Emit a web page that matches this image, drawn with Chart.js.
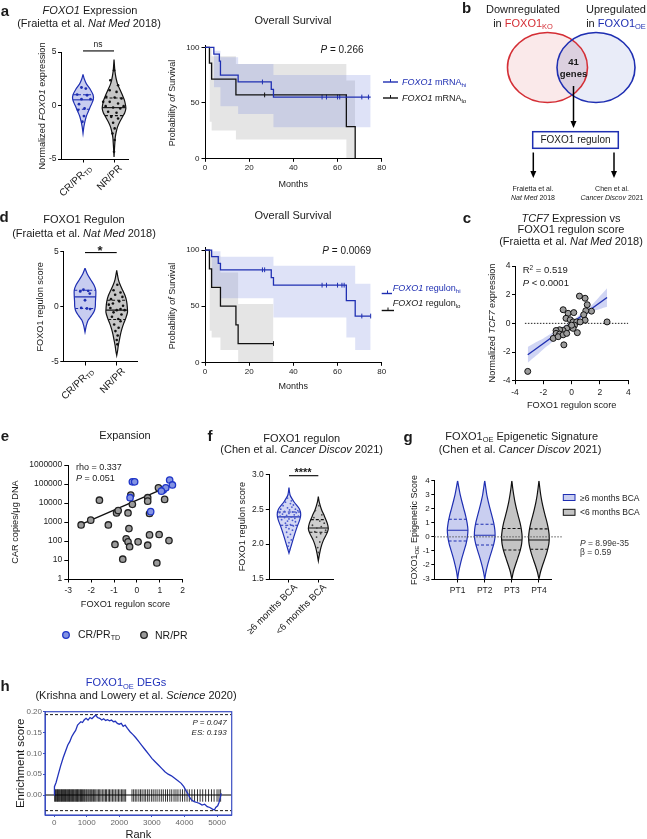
<!DOCTYPE html>
<html><head><meta charset="utf-8"><title>FOXO1 figure</title>
<script src="https://cdn.jsdelivr.net/npm/chart.js@4.4.1/dist/chart.umd.min.js"></script>
<style>
html,body{margin:0;padding:0;background:#fff}
body{position:relative;width:647px;height:839px;overflow:hidden;font-family:"Liberation Sans",Arial,Helvetica,sans-serif;color:#1a1a1a}
#charts canvas{position:absolute;left:0;top:0}
svg{position:absolute;left:0;top:0}
.t{position:absolute;white-space:nowrap;line-height:1}
.sb{font-size:0.68em;position:relative;top:0.32em}
.sp{font-size:0.68em;position:relative;top:-0.45em}
</style></head><body>
<div id="charts"></div>
<svg id="ov" width="647" height="839">
  <defs><clipPath id="cr"><ellipse cx="547.5" cy="67.5" rx="40" ry="35"/></clipPath></defs>
  <ellipse cx="547.5" cy="67.5" rx="40" ry="35" fill="#fae9ea"/>
  <ellipse cx="596" cy="67.5" rx="39" ry="35" fill="#e9ecf8"/>
  <ellipse cx="596" cy="67.5" rx="39" ry="35" fill="#dcd0df" clip-path="url(#cr)"/>
  <ellipse cx="547.5" cy="67.5" rx="40" ry="35" fill="none" stroke="#d42e35" stroke-width="1.6"/>
  <ellipse cx="596" cy="67.5" rx="39" ry="35" fill="none" stroke="#1f2fb2" stroke-width="1.6"/>
  <line x1="573.5" y1="86" x2="573.5" y2="122" stroke="#000" stroke-width="1.5"/>
  <polygon points="570.5,121 576.5,121 573.5,128" fill="#000"/>
  <rect x="532.7" y="131.7" width="85.6" height="16.6" fill="#fff" stroke="#1f2fb2" stroke-width="1.5"/>
  <line x1="533.3" y1="152.5" x2="533.3" y2="172" stroke="#000" stroke-width="1.5"/>
  <polygon points="530.3,171 536.3,171 533.3,178" fill="#000"/>
  <line x1="614" y1="152.5" x2="614" y2="172" stroke="#000" stroke-width="1.5"/>
  <polygon points="611,171 617,171 614,178" fill="#000"/>
  <!-- KM legends -->
  <line x1="383" y1="82" x2="398" y2="82" stroke="#1f2fb2" stroke-width="1.4"/>
  <line x1="390.5" y1="79" x2="390.5" y2="82" stroke="#1f2fb2" stroke-width="1"/>
  <line x1="383" y1="98" x2="398" y2="98" stroke="#111" stroke-width="1.4"/>
  <line x1="390.5" y1="95" x2="390.5" y2="98" stroke="#111" stroke-width="1"/>
  <line x1="381.7" y1="293.5" x2="392" y2="293.5" stroke="#1f2fb2" stroke-width="1.4"/>
  <line x1="387.5" y1="290.5" x2="387.5" y2="293.5" stroke="#1f2fb2" stroke-width="1"/>
  <line x1="381.7" y1="310.5" x2="394" y2="310.5" stroke="#111" stroke-width="1.4"/>
  <line x1="388" y1="307.5" x2="388" y2="310.5" stroke="#111" stroke-width="1"/>
  <!-- e legend -->
  <circle cx="66" cy="635" r="3.3" fill="#8393e2" stroke="#1f35c8" stroke-width="1.3"/>
  <circle cx="144" cy="635" r="3.3" fill="#9a9a9a" stroke="#222" stroke-width="1.3"/>
  <!-- g legend -->
  <rect x="563.3" y="494.5" width="11.7" height="6" fill="#c9cef0" stroke="#1f2fb2" stroke-width="1"/>
  <rect x="563.3" y="509.3" width="11.7" height="6" fill="#c4c4c4" stroke="#111" stroke-width="1"/>
</svg>
<div id="txt"></div>
<script>
// ================= DATA =================
// Panel a – FOXO1 expression violins (value levels / relative density)
const aCats = ['CR/PR_TD', 'NR/PR'];
const aYTicks = [-5, 0, 5];
const aCR_y = [2.9, 2.5, 2.0, 1.5, 1.0, 0.6, 0.2, -0.2, -0.6, -1.0, -1.5, -2.0, -2.6];
const aCR_d = [0, 0.1, 0.3, 0.62, 0.85, 0.88, 0.75, 0.58, 0.43, 0.28, 0.16, 0.07, 0];
const aNR_y = [4.3, 3.5, 3.0, 2.5, 2.0, 1.5, 1.0, 0.5, 0, -0.3, -0.7, -1.0, -1.5, -2.0, -2.5, -3.0, -4.0, -4.8];
const aNR_d = [0, 0.05, 0.1, 0.18, 0.3, 0.5, 0.7, 0.88, 0.98, 1.0, 0.9, 0.75, 0.5, 0.3, 0.18, 0.1, 0.04, 0];
const aCR_q = [1.0, 0.53, -0.35];
const aNR_q = [0.7, -0.2, -0.95];
const aCR_py = [1.68, 1.58, 1.02, 0.96, 0.59, 0.59, 0.12, -0.28, -0.43, -0.99, -1.52];
const aCR_px = [-0.05, 0.09, -0.19, 0.13, -0.05, 0.24, -0.13, 0.05, -0.16, 0.03, -0.02];
const aNR_py = [3.29, 2.36, 1.89, 1.43, 1.27, 0.81, 0.75, 0.65, 0.34, 0.19, -0.06, -0.19, -0.28, -0.59, -0.68, -1.06, -1.21, -1.61, -2.14, -2.61, -3.23, -4.32, -0.06, 0.34];
const aNR_px = [0, -0.12, 0.13, -0.14, 0.08, -0.25, 0.02, 0.24, -0.14, 0.13, -0.27, -0.03, 0.2, -0.19, 0.08, -0.09, 0.13, -0.03, 0.02, -0.05, 0.02, 0, 0.31, -0.35];
const aSigY = 5.1;

// Panel a – Kaplan–Meier (FOXO1 mRNA hi / lo)
const kmTicksX = [0, 20, 40, 60, 80];
const kmTicksY = [0, 50, 100];
const kmA_hi_t = [0, 4, 6.5, 7, 15, 30, 31, 75];
const kmA_hi_s = [100, 93.8, 87.5, 75, 68.8, 62.1, 55.2, 55.2];
const kmA_hi_ct = [26, 53, 55, 60, 61, 64, 71, 74];
const kmA_hi_cs = [68.8, 55.2, 55.2, 55.2, 55.2, 55.2, 55.2, 55.2];
const kmA_lo_t = [0, 2, 3, 14, 64, 68];
const kmA_lo_s = [100, 85.7, 71.4, 57.1, 28.6, 0];
const kmA_lo_ct = [27];
const kmA_lo_cs = [57.1];
const kmA_hi_bt = [4, 7, 15, 31, 75];
const kmA_hi_bu = [97, 91, 85, 75, 75];
const kmA_hi_bl = [64, 47, 40, 28, 28];
const kmA_lo_bt = [2, 3, 14, 64, 68];
const kmA_lo_bu = [100, 92, 85, 70, 70];
const kmA_lo_bl = [33, 25, 17, 0, 0];

// Panel d – FOXO1 regulon violins
const dCR_y = [3.5, 3.0, 2.5, 2.0, 1.5, 1.0, 0.5, 0, -0.4, -0.8, -1.2, -1.7, -2.3];
const dCR_d = [0, 0.2, 0.5, 0.82, 1.0, 1.0, 0.97, 0.95, 0.85, 0.6, 0.3, 0.12, 0];
const dNR_y = [3.3, 2.5, 2.0, 1.5, 1.0, 0.5, 0, -0.5, -1.0, -1.5, -2.0, -2.5, -3.0, -3.5, -4.0, -4.4];
const dNR_d = [0, 0.15, 0.32, 0.55, 0.78, 0.92, 0.98, 1.0, 0.85, 0.65, 0.48, 0.35, 0.25, 0.15, 0.08, 0];
const dCR_q = [1.5, 0.9, -0.15];
const dNR_q = [0.6, -0.3, -1.15];
const dCR_py = [1.55, 1.45, 1.4, 1.2, 0.6, -0.1, -0.15, -0.2];
const dCR_px = [-0.05, 0.1, -0.15, 0.15, 0.0, -0.12, 0.06, 0.16];
const dNR_py = [2.0, 1.5, 1.3, 1.1, 0.9, 0.7, 0.5, 0.3, 0.1, -0.1, -0.3, -0.3, -0.5, -0.7, -0.9, -1.1, -1.3, -1.6, -1.9, -2.2, -2.6, -3.0, -3.4, 0.2, -0.2];
const dNR_px = [0.02, -0.1, 0.12, -0.05, 0.18, -0.18, 0.08, -0.12, 0.2, -0.2, 0.0, 0.25, -0.1, 0.15, -0.15, 0.05, 0.12, -0.08, 0.06, -0.04, 0.03, 0.0, 0.02, -0.25, 0.12];
const dSigY = 4.92;

// Panel d – Kaplan–Meier (FOXO1 regulon hi / lo)
const kmD_hi_t = [0, 3, 6, 7, 30, 31, 64, 68, 75];
const kmD_hi_s = [100, 94.1, 88.2, 82.4, 75.5, 68.7, 55.0, 41.2, 41.2];
const kmD_hi_ct = [26, 27, 53, 55, 60, 62, 63, 71, 75];
const kmD_hi_cs = [82.4, 82.4, 68.7, 68.7, 68.7, 68.7, 68.7, 41.2, 41.2];
const kmD_lo_t = [0, 2, 3, 7, 14, 15, 31];
const kmD_lo_s = [100, 83.3, 66.7, 50, 33.3, 16.7, 16.7];
const kmD_lo_ct = [31];
const kmD_lo_cs = [16.7];
const kmD_hi_bt = [3, 7, 31, 64, 68, 75];
const kmD_hi_bu = [99, 94, 86, 86, 70, 70];
const kmD_hi_bl = [68, 57, 40, 22, 11, 11];
const kmD_lo_bt = [2, 3, 7, 15, 31];
const kmD_lo_bu = [100, 95, 80, 52, 52];
const kmD_lo_bl = [28, 22, 11, 0, 0];

// Panel c – TCF7 vs FOXO1 regulon score
const cTicks = [-4, -2, 0, 2, 4];
const cX = [-3.1, 2.5, 0.55, 0.95, 1.1, 1.4, 1.0, 0.85, 0.95, -0.6, -0.25, 0.15, -0.4, -0.1, 0.1, 0.35, 0.6, 0.2, -0.1, -0.35, -0.6, -0.85, -1.1, -1.1, -0.85, -1.3, -0.95, -0.6, -0.35, 0.4, -0.55, 0.1, 0.0];
const cY = [-3.35, 0.1, 1.9, 1.75, 1.3, 0.85, 0.88, 0.6, 0.22, 0.95, 0.7, 0.75, 0.35, 0.25, 0.1, 0.1, 0.1, -0.13, -0.25, -0.35, -0.5, -0.45, -0.5, -0.7, -0.75, -1.05, -0.93, -0.8, -0.7, -0.65, -1.5, -0.35, -0.13];
const cFitX = [-3.1, 2.5];
const cFitY = [-2.19, 1.8];
const cBandX = [-3.1, -2.5, -2, -1.5, -1, -0.5, 0, 0.5, 1, 1.5, 2, 2.5];
const cBandU = [-1.65, -1.3, -1.05, -0.75, -0.45, -0.15, 0.15, 0.55, 0.95, 1.35, 1.9, 2.45];
const cBandL = [-2.75, -2.25, -1.8, -1.4, -0.95, -0.55, -0.2, 0.2, 0.55, 0.85, 1.0, 1.15];

// Panel e – Expansion (log CAR copies)
const eXTicks = [-3, -2, -1, 0, 1, 2];
const eYTicks = [1, 10, 100, 1000, 10000, 100000, 1000000];
const eNR_x = [-2.44, -2.02, -1.64, -1.25, -0.96, -0.89, -0.82, -0.62, -0.47, -0.39, -0.39, -0.35, -0.32, -0.27, -0.2, 0.05, 0.47, 0.47, 0.47, 0.55, 0.55, 0.87, 0.94, 0.97, 1.21, 1.4];
const eNR_y = [700, 1250, 14000, 700, 66, 3000, 4000, 11, 130, 3000, 90, 450, 50, 26000, 8500, 90, 60, 19000, 12500, 2800, 210, 7, 63000, 220, 15500, 105];
const eCR_x = [-0.2, -0.1, -0.3, 0.6, 1.15, 1.26, 1.43, 1.55, 1.07];
const eCR_y = [130000, 130000, 19000, 3500, 48000, 63000, 162000, 89000, 42000];
const eFitX = [-2.44, 1.01];
const eFitY = [758, 48000];

// Panel f – FOXO1 regulon (Chen et al.)
const fCats = ['≥6 months BCA', '<6 months BCA'];
const fYTicks = [1.5, 2.0, 2.5, 3.0];
const fHi_y = [2.81, 2.7, 2.6, 2.5, 2.42, 2.35, 2.25, 2.15, 2.05, 1.97, 1.87];
const fHi_d = [0, 0.1, 0.45, 0.9, 1.0, 0.92, 0.7, 0.5, 0.32, 0.18, 0];
const fLo_y = [2.68, 2.6, 2.5, 2.4, 2.3, 2.22, 2.15, 2.05, 1.95, 1.85, 1.76];
const fLo_d = [0, 0.08, 0.26, 0.52, 0.76, 0.85, 0.72, 0.42, 0.22, 0.09, 0];
const fHi_q = [2.46, 2.39, 2.27];
const fLo_q = [2.35, 2.23, 2.17];
const fHi_py = [2.72, 2.66, 2.62, 2.6, 2.58, 2.56, 2.55, 2.53, 2.52, 2.5, 2.5, 2.49, 2.48, 2.47, 2.46, 2.45, 2.45, 2.44, 2.43, 2.42, 2.41, 2.4, 2.4, 2.39, 2.38, 2.37, 2.36, 2.35, 2.34, 2.33, 2.32, 2.3, 2.28, 2.26, 2.24, 2.22, 2.2, 2.17, 2.14, 2.1, 2.06, 2.02, 1.97, 1.92];
const fHi_px = [0.0, -0.05, 0.08, -0.12, 0.05, 0.15, -0.2, 0.1, -0.05, 0.22, -0.28, 0.02, 0.3, -0.15, 0.12, -0.32, 0.25, 0.0, -0.22, 0.18, -0.08, 0.32, -0.3, 0.08, -0.15, 0.2, 0.0, -0.25, 0.12, -0.05, 0.22, -0.12, 0.05, 0.15, -0.1, 0.0, 0.12, -0.08, 0.05, -0.04, 0.08, 0.0, -0.03, 0.02];
const fLo_py = [2.55, 2.48, 2.42, 2.38, 2.33, 2.3, 2.27, 2.25, 2.23, 2.2, 2.18, 2.15, 2.1, 2.03, 1.95, 1.88];
const fLo_px = [0.02, -0.1, 0.12, -0.15, 0.05, 0.2, -0.2, 0.1, -0.05, 0.25, -0.12, 0.08, -0.06, 0.05, -0.02, 0.0];
const fSigY = 2.98;

// Panel g – FOXO1_OE epigenetic signature
const gCats = ['PT1', 'PT2', 'PT3', 'PT4'];
const gYTicks = [-3, -2, -1, 0, 1, 2, 3, 4];
const gV_y = [4, 3.5, 3, 2.5, 2, 1.5, 1, 0.5, 0, -0.5, -1, -1.5, -2, -2.5, -3];
const gPT1_d = [0, 0.12, 0.25, 0.42, 0.6, 0.78, 0.92, 1.0, 0.95, 0.82, 0.62, 0.42, 0.25, 0.1, 0];
const gPT2_d = [0, 0.1, 0.2, 0.35, 0.52, 0.7, 0.87, 0.98, 1.0, 0.88, 0.68, 0.47, 0.28, 0.12, 0];
const gPT3_d = [0, 0.08, 0.18, 0.3, 0.45, 0.62, 0.8, 0.93, 1.0, 0.95, 0.8, 0.58, 0.35, 0.14, 0];
const gPT4_d = [0, 0.08, 0.17, 0.29, 0.44, 0.61, 0.79, 0.93, 1.0, 0.96, 0.81, 0.6, 0.36, 0.15, 0];
const gPT1_q = [1.25, 0.47, -0.29];
const gPT2_q = [0.9, 0.12, -0.58];
const gPT3_q = [0.6, -0.22, -0.93];
const gPT4_q = [0.57, -0.22, -0.88];

// Panel h – GSEA running enrichment score
const hXTicks = [0, 1000, 2000, 3000, 4000, 5000];
const hYTicks = [0, 0.05, 0.1, 0.15, 0.2];
const hRank = [0, 10, 60, 130, 200, 280, 350, 420, 480, 540, 600, 660, 720, 770, 820, 870, 920, 980, 1040, 1100, 1160, 1220, 1280, 1330, 1400, 1460, 1520, 1580, 1640, 1700, 1760, 1820, 1880, 1940, 2000, 2060, 2120, 2180, 2250, 2330, 2420, 2500, 2600, 2700, 2800, 2900, 3000, 3100, 3200, 3300, 3400, 3500, 3600, 3700, 3800, 3900, 3980, 4050, 4100, 4160, 4220, 4300, 4380, 4460, 4540, 4620, 4700, 4780, 4860, 4920, 4960, 5020, 5060, 5100, 5130];
const hES = [0.0, 0.02, 0.03, 0.05, 0.07, 0.09, 0.105, 0.12, 0.128, 0.14, 0.148, 0.155, 0.168, 0.172, 0.176, 0.174, 0.18, 0.184, 0.18, 0.186, 0.183, 0.188, 0.192, 0.186, 0.184, 0.18, 0.183, 0.179, 0.181, 0.178, 0.18, 0.176, 0.177, 0.172, 0.17, 0.172, 0.165, 0.168, 0.16, 0.152, 0.145, 0.138, 0.128, 0.118, 0.108, 0.098, 0.088, 0.08, 0.072, 0.064, 0.056, 0.05, 0.046, 0.04, 0.034, 0.028, 0.02, 0.01, 0.004, -0.006, -0.012, -0.016, -0.018, -0.02, -0.024, -0.022, -0.028, -0.03, -0.034, -0.036, -0.03, -0.026, -0.018, -0.006, 0.004];
const hHits = [15, 42, 68, 95, 110, 138, 160, 185, 210, 228, 255, 280, 300, 322, 350, 372, 398, 420, 445, 470, 490, 515, 540, 562, 590, 612, 640, 665, 690, 715, 735, 760, 790, 812, 840, 868, 895, 925, 950, 985, 1010, 1045, 1075, 1110, 1140, 1170, 1210, 1245, 1280, 1320, 1365, 1400, 1440, 1490, 1530, 1575, 1610, 1660, 1700, 1745, 1790, 1835, 1880, 1930, 1975, 2020, 2070, 2110, 2150, 2195, 2390, 2440, 2490, 2540, 2600, 2650, 2700, 2760, 2810, 2870, 2920, 2985, 3040, 3100, 3160, 3225, 3290, 3350, 3420, 3480, 3550, 3610, 3680, 3740, 3800, 3870, 3940, 4010, 4080, 4150, 4230, 4310, 4400, 4480, 4560, 4650, 4740, 4830, 4910, 5000, 5060, 5110];
const hHitY = -0.0012;
const hES_max = 0.193;
const hES_min = -0.0375;

// ================= HELPERS =================
Chart.defaults.font.family = '"Liberation Sans", Arial, Helvetica, sans-serif';
Chart.defaults.color = '#1a1a1a';
const W = 647, H = 839;
const BLUE = '#1f2fb2', BLACK = '#111111';
const blueSt = {lc: BLUE, fc: '#c8cdf0', pc: BLUE, pr: 1.4};
const graySt = {lc: BLACK, fc: '#c6c6c6', pc: '#111', pr: 1.3};
const pts = (xs, ys) => xs.map((x, i) => ({x, y: ys[i]}));

function axis(min, max, ticks, o = {}) {
  return {
    type: o.type || 'linear', min, max,
    afterBuildTicks: s => { s.ticks = ticks.map(v => ({value: v})); },
    ticks: { display: !o.noLabels, font: {size: o.fs || 8}, color: o.tc || '#222', padding: o.pad ?? 2,
      callback: o.cb || (v => String(v)), maxRotation: 0, minRotation: 0, autoSkip: false },
    grid: { display: true, drawOnChartArea: false, drawTicks: true, tickLength: o.tl ?? 3.5, color: o.gc || '#000', lineWidth: 1 },
    border: { display: true, color: o.gc || '#000', width: 1 },
    title: o.title ? { display: true, text: o.title, font: {size: o.tfs || 9.2, lineHeight: o.tlh || 1.2}, padding: 0, color: '#1a1a1a' } : { display: false }
  };
}

function makeChart(rect, yW, xH, scales, datasets, plugins = []) {
  const cv = document.createElement('canvas');
  cv.width = W; cv.height = H; cv.style.width = W + 'px'; cv.style.height = H + 'px';
  document.getElementById('charts').appendChild(cv);
  scales.x.afterFit = s => { s.height = xH; };
  scales.y.afterFit = s => { s.width = yW; };
  return new Chart(cv, {
    type: 'scatter', data: {datasets},
    options: {
      responsive: false, maintainAspectRatio: false, devicePixelRatio: 1, animation: false, events: [],
      layout: { autoPadding: false, padding: { left: rect[0] - yW, top: rect[1], right: W - rect[2], bottom: H - rect[3] - xH } },
      plugins: { legend: {display: false}, tooltip: {enabled: false} },
      scales
    },
    plugins
  });
}

function wAt(ys, ds, v) {
  for (let i = 0; i < ys.length - 1; i++) {
    const a = ys[i], b = ys[i + 1];
    if (v <= a && v >= b) { const f = (a - v) / (a - b); return ds[i] + f * (ds[i + 1] - ds[i]); }
  }
  return 0;
}
function violinSets(cx, ys, ds, maxW, q, py, px, st) {
  const sets = [];
  if (py) sets.push({type: 'scatter', data: py.map((y, i) => ({x: cx + px[i], y})), pointRadius: st.pr, backgroundColor: st.pc, borderWidth: 0});
  q.forEach((v, k) => {
    const w = wAt(ys, ds, v) * maxW;
    sets.push({type: 'line', data: [{x: cx - w, y: v}, {x: cx + w, y: v}], borderColor: st.lc, borderWidth: 1.1, borderDash: k === 1 ? [] : [3, 2], pointRadius: 0, fill: false});
  });
  const right = ys.map((y, i) => ({x: cx + ds[i] * maxW, y}));
  const left = ys.map((y, i) => ({x: cx - ds[i] * maxW, y})).reverse();
  sets.push({type: 'line', data: right.concat(left), borderColor: st.lc, backgroundColor: st.fc, borderWidth: 1.2, fill: 'shape', tension: 0.25, pointRadius: 0});
  return sets;
}
const sigBar = (x0, x1, y) => ({type: 'line', data: [{x: x0, y}, {x: x1, y}], borderColor: '#000', borderWidth: 1.1, pointRadius: 0, clip: false, fill: false});
const kmLine = (t, s, c) => ({type: 'line', data: pts(t, s), stepped: true, borderColor: c, borderWidth: 1.3, pointRadius: 0, fill: false});
const kmCens = (t, s, c) => ({type: 'scatter', data: pts(t, s), pointStyle: 'line', rotation: 90, pointRadius: 2.4, borderColor: c, backgroundColor: c, borderWidth: 1});
const kmBand = (t, up, lo, c) => [
  {type: 'line', data: pts(t, up), stepped: true, borderWidth: 0, borderColor: 'transparent', pointRadius: 0, backgroundColor: c, fill: '+1'},
  {type: 'line', data: pts(t, lo), stepped: true, borderWidth: 0, borderColor: 'transparent', pointRadius: 0, fill: false}
];
const BAND_B = 'rgba(90,110,215,0.2)', BAND_G = 'rgba(0,0,0,0.1)';

// ================= PANEL a =================
makeChart([61, 52, 128, 159], 30, 10,
  { x: axis(-0.71, 1.45, [0, 1], {noLabels: true}), y: axis(-5, 5, aYTicks, {fs: 8.5, tl: 3, pad: 1.5}) },
  [sigBar(0, 1, aSigY),
   ...violinSets(0, aCR_y, aCR_d, 0.38, aCR_q, aCR_py, aCR_px, blueSt),
   ...violinSets(1, aNR_y, aNR_d, 0.38, aNR_q, aNR_py, aNR_px, graySt)]);

makeChart([205, 45.1, 381.7, 158.3], 30, 32.1,
  { x: axis(0, 80, kmTicksX, {title: 'Months', tfs: 9, pad: 1}), y: axis(0, 102, kmTicksY, {pad: 2}) },
  [kmLine(kmA_hi_t, kmA_hi_s, BLUE), kmLine(kmA_lo_t, kmA_lo_s, BLACK),
   kmCens(kmA_hi_ct, kmA_hi_cs, BLUE), kmCens(kmA_lo_ct, kmA_lo_cs, BLACK),
   ...kmBand(kmA_hi_bt, kmA_hi_bu, kmA_hi_bl, BAND_B), ...kmBand(kmA_lo_bt, kmA_lo_bu, kmA_lo_bl, BAND_G)]);

// ================= PANEL d =================
makeChart([63.3, 251.7, 137, 362], 28.8, 10,
  { x: axis(-0.685, 1.64, [0, 1], {noLabels: true}), y: axis(-5, 5, aYTicks, {fs: 8.5, tl: 3, pad: 1.5, title: 'FOXO1 regulon score'}) },
  [sigBar(0, 1, dSigY),
   ...violinSets(0, dCR_y, dCR_d, 0.34, dCR_q, dCR_py, dCR_px, blueSt),
   ...violinSets(1, dNR_y, dNR_d, 0.34, dNR_q, dNR_py, dNR_px, graySt)]);

makeChart([205, 247.8, 381.7, 362.3], 30, 29.8,
  { x: axis(0, 80, kmTicksX, {title: 'Months', tfs: 9, pad: 1}), y: axis(0, 102, kmTicksY, {pad: 2}) },
  [kmLine(kmD_hi_t, kmD_hi_s, BLUE), kmLine(kmD_lo_t, kmD_lo_s, BLACK),
   kmCens(kmD_hi_ct, kmD_hi_cs, BLUE), kmCens(kmD_lo_ct, kmD_lo_cs, BLACK),
   ...kmBand(kmD_hi_bt, kmD_hi_bu, kmD_hi_bl, BAND_B), ...kmBand(kmD_lo_bt, kmD_lo_bu, kmD_lo_bl, BAND_G)]);

// ================= PANEL c =================
makeChart([515, 266, 628.3, 380.7], 30, 30.7,
  { x: axis(-4, 4, cTicks, {fs: 8.5, pad: 3.5, title: 'FOXO1 regulon score'}), y: axis(-4, 4, cTicks, {fs: 8.5, tl: 3, pad: 1.5}) },
  [{type: 'scatter', data: pts(cX, cY), pointRadius: 3, backgroundColor: '#9b9b9b', borderColor: '#111', borderWidth: 1},
   {type: 'line', data: pts(cFitX, cFitY), borderColor: BLUE, borderWidth: 1.4, pointRadius: 0, fill: false},
   {type: 'line', data: [{x: -3.3, y: 0}, {x: 4, y: 0}], borderColor: '#222', borderWidth: 1, borderDash: [1.5, 1.5], pointRadius: 0, fill: false},
   {type: 'line', data: pts(cBandX, cBandU), borderColor: 'transparent', borderWidth: 0, pointRadius: 0, backgroundColor: 'rgba(80,100,215,0.27)', fill: '+1', tension: 0.3},
   {type: 'line', data: pts(cBandX, cBandL), borderColor: 'transparent', borderWidth: 0, pointRadius: 0, fill: false, tension: 0.3}]);

// ================= PANEL e =================
makeChart([68.3, 465, 182.7, 579], 58.7, 31.4,
  { x: axis(-3, 2, eXTicks, {fs: 8.5, pad: 3.5, title: 'FOXO1 regulon score'}),
    y: axis(1, 1000000, eYTicks, {type: 'logarithmic', fs: 8.5, tl: 4, pad: 2, title: 'CAR copies/μg DNA'}) },
  [{type: 'scatter', data: pts(eCR_x, eCR_y), pointRadius: 3.2, backgroundColor: '#8393e2', borderColor: '#1f35c8', borderWidth: 1.3},
   {type: 'scatter', data: pts(eNR_x, eNR_y), pointRadius: 3.2, backgroundColor: '#9a9a9a', borderColor: '#222', borderWidth: 1.3},
   {type: 'line', data: pts(eFitX, eFitY), borderColor: '#111', borderWidth: 1.4, pointRadius: 0, fill: false}]);

// ================= PANEL f =================
makeChart([269.3, 474.3, 333.3, 579], 32, 10,
  { x: axis(-0.67, 1.51, [0, 1], {noLabels: true}),
    y: axis(1.5, 3.0, fYTicks, {fs: 8.5, pad: 2, cb: v => v.toFixed(1), title: 'FOXO1 regulon score'}) },
  [sigBar(0, 1, fSigY),
   ...violinSets(0, fHi_y, fHi_d, 0.4, fHi_q, fHi_py, fHi_px, {lc: BLUE, fc: '#d3d7f4', pc: '#4a5ad0', pr: 0.9}),
   ...violinSets(1, fLo_y, fLo_d, 0.4, fLo_q, fLo_py, fLo_px, {lc: BLACK, fc: '#cfcfcf', pc: '#444', pr: 0.9})]);

// ================= PANEL g =================
const gBlue = {lc: BLUE, fc: '#c9cef0'}, gGray = {lc: BLACK, fc: '#c4c4c4'};
makeChart([434.3, 480.7, 551.7, 579], 30, 20,
  { x: axis(-0.86, 3.47, [0, 1, 2, 3], {fs: 8.5, pad: 3, cb: v => gCats[v] ?? ''}),
    y: axis(-3, 4, gYTicks, {fs: 8, tl: 3, pad: 1.5}) },
  [{type: 'line', data: [{x: -0.86, y: 0}, {x: 3.84, y: 0}], borderColor: '#555', borderWidth: 1, borderDash: [1.5, 1.5], pointRadius: 0, fill: false, clip: false},
   ...violinSets(0, gV_y, gPT1_d, 0.38, gPT1_q, null, null, gBlue),
   ...violinSets(1, gV_y, gPT2_d, 0.38, gPT2_q, null, null, gBlue),
   ...violinSets(2, gV_y, gPT3_d, 0.38, gPT3_q, null, null, gGray),
   ...violinSets(3, gV_y, gPT4_d, 0.38, gPT4_q, null, null, gGray)]);

// ================= PANEL h =================
const framePlugin = { id: 'frame', afterDatasetsDraw(chart) {
  const {ctx, chartArea: a} = chart; ctx.save(); ctx.strokeStyle = '#3b4ec2'; ctx.lineWidth = 1.2;
  ctx.strokeRect(a.left, a.top, a.right - a.left, a.bottom - a.top); ctx.restore(); } };
makeChart([45, 711.7, 231.7, 815], 31.5, 24,
  { x: axis(-280, 5450, hXTicks, {fs: 8, tc: '#666', tl: 2, pad: 1, gc: '#3b4ec2', title: 'Rank', tfs: 11, tlh: 0.8}),
    y: axis(-0.048, 0.2, hYTicks, {fs: 8, tc: '#666', tl: 2, pad: 1, gc: '#3b4ec2', cb: v => v.toFixed(2), title: 'Enrichment score', tfs: 11.5}) },
  [{type: 'line', data: pts(hRank, hES), borderColor: '#2233bb', borderWidth: 1.3, pointRadius: 0, fill: false},
   {type: 'scatter', data: hHits.map(r => ({x: r, y: hHitY})), pointStyle: 'line', rotation: 90, pointRadius: 6.2, borderColor: '#000', borderWidth: 0.8},
   {type: 'line', data: [{x: -280, y: 0}, {x: 5450, y: 0}], borderColor: '#000', borderWidth: 1, pointRadius: 0, fill: false},
   {type: 'line', data: [{x: -280, y: hES_max}, {x: 5450, y: hES_max}], borderColor: '#000', borderWidth: 0.9, borderDash: [3, 2], pointRadius: 0, fill: false},
   {type: 'line', data: [{x: -280, y: hES_min}, {x: 5450, y: hES_min}], borderColor: '#000', borderWidth: 0.9, borderDash: [3, 2], pointRadius: 0, fill: false}],
  [framePlugin]);

// ================= TEXT =================
const TX = document.getElementById('txt');
function T(html, x, y, size, o = {}) {
  const d = document.createElement('div'); d.className = 't'; d.innerHTML = html;
  d.style.fontSize = size + 'px'; d.style.left = x + 'px'; d.style.top = y + 'px';
  if (o.color) d.style.color = o.color;
  if (o.rot) d.style.transform = `translate(-50%,-50%) rotate(${o.rot}deg)`;
  else { const a = o.a || 'c'; d.style.transform = `translate(${a === 'c' ? '-50%' : a === 'r' ? '-100%' : '0'},-50%)`; }
  TX.appendChild(d);
}
function R45(html, x, y, size) {
  const d = document.createElement('div'); d.className = 't'; d.innerHTML = html;
  d.style.fontSize = size + 'px'; d.style.left = x + 'px'; d.style.top = y + 'px';
  d.style.transformOrigin = '100% 0'; d.style.transform = 'translate(-100%,0) rotate(-45deg)';
  TX.appendChild(d);
}
const sub = s => `<span class="sb">${s}</span>`;
// a
T('<b>a</b>', 5, 9.5, 15);
T('<i>FOXO1</i> Expression', 90, 9.5, 11);
T('(Fraietta et al. <i>Nat Med</i> 2018)', 89, 23, 11);
T('ns', 98, 44, 8.5);
T('Normalized <i>FOXO1</i> expression', 43, 106, 9.2, {rot: -90});
R45('CR/PR' + sub('TD'), 86, 163, 10);
R45('NR/PR', 117, 163, 10);
T('Overall Survival', 293, 20, 11);
T('<i>P</i> = 0.266', 342, 49.5, 10);
T('Probability <i>of</i> Survival', 172.3, 102.5, 9, {rot: -90});
T('<i>FOXO1</i> mRNA' + sub('hi'), 402, 82, 9, {a: 'l', color: BLUE});
T('<i>FOXO1</i> mRNA' + sub('lo'), 402, 98, 9, {a: 'l'});
// b
T('<b>b</b>', 466.5, 7, 15);
T('Downregulated', 523, 9, 11);
T('in <span style="color:#d42e35">FOXO1' + sub('KO') + '</span>', 523, 23, 11);
T('Upregulated', 616, 9, 11);
T('in <span style="color:#1f2fb2">FOXO1' + sub('OE') + '</span>', 616, 23, 11);
T('<b>41</b>', 573.5, 62, 9.5);
T('<b>genes</b>', 573.5, 74, 9.5);
T('FOXO1 regulon', 575.5, 140, 10);
T('Fraietta et al.', 533, 188, 7);
T('<i>Nat Med</i> 2018', 533, 197, 7);
T('Chen et al.', 612, 188, 7);
T('<i>Cancer Discov</i> 2021', 612, 197, 7);
// c
T('<b>c</b>', 467, 217, 15);
T('<i>TCF7</i> Expression vs', 571, 218.3, 11);
T('FOXO1 regulon score', 571, 229, 11);
T('(Fraietta et al. <i>Nat Med</i> 2018)', 571, 240.5, 11);
T('R<span class="sp">2</span> = 0.519', 522.7, 270, 9.5, {a: 'l'});
T('<i>P</i> &lt; 0.0001', 522.7, 282.7, 9.5, {a: 'l'});
T('Normalized <i>TCF7</i> expression', 493, 323, 9.2, {rot: -90});
// d
T('<b>d</b>', 4, 215.5, 15);
T('FOXO1 Regulon', 84, 219.3, 11);
T('(Fraietta et al. <i>Nat Med</i> 2018)', 84, 232.7, 11);
T('<b>*</b>', 100, 250, 13);
R45('CR/PR' + sub('TD'), 88, 366, 10);
R45('NR/PR', 120, 366, 10);
T('Overall Survival', 293, 215, 11);
T('<i>P</i> = 0.0069', 346.7, 251, 10);
T('Probability <i>of</i> Survival', 172.3, 306, 9, {rot: -90});
T('<i>FOXO1</i> regulon' + sub('hi'), 392.7, 288.3, 9, {a: 'l', color: BLUE});
T('<i>FOXO1</i> regulon' + sub('lo'), 392.7, 303.3, 9, {a: 'l'});
// e
T('<b>e</b>', 5, 435, 15);
T('Expansion', 125, 435, 11);
T('rho = 0.337', 76, 467.3, 9, {a: 'l'});
T('<i>P</i> = 0.051', 76, 478.3, 9, {a: 'l'});
T('CR/PR' + sub('TD'), 78, 635, 10.5, {a: 'l'});
T('NR/PR', 155, 635, 10.5, {a: 'l'});
// f
T('<b>f</b>', 210, 435, 15);
T('FOXO1 regulon', 301.7, 437.7, 11);
T('(Chen et al. <i>Cancer Discov</i> 2021)', 301.7, 449.3, 11);
T('<b>****</b>', 303, 471.5, 11);
R45('≥6 months BCA', 292, 582, 9.5);
R45('&lt;6 months BCA', 321, 582, 9.5);
// g
T('<b>g</b>', 408, 436, 15);
T('FOXO1' + sub('OE') + ' Epigenetic Signature', 521.7, 435.7, 11);
T('(Chen et al. <i>Cancer Discov</i> 2021)', 520, 449.3, 11);
T('FOXO1' + sub('OE') + ' Epigenetic Score', 414.3, 530, 9, {rot: -90});
T('≥6 months BCA', 580, 497.7, 8.5, {a: 'l'});
T('&lt;6 months BCA', 580, 512.3, 8.5, {a: 'l'});
T('<i>P</i> = 8.99e-35', 580, 542.7, 8.5, {a: 'l', color: '#333'});
T('β = 0.59', 580, 551.7, 8.5, {a: 'l', color: '#333'});
// h
T('<b>h</b>', 5, 685, 15);
T('FOXO1' + sub('OE') + ' DEGs', 126, 682.3, 11, {color: '#2233bb'});
T('(Krishna and Lowery et al. <i>Science</i> 2020)', 136, 695, 11);
T('<i>P = 0.047</i>', 226.7, 723.3, 8, {a: 'r'});
T('<i>ES: 0.193</i>', 226.7, 733.3, 8, {a: 'r'});
</script>
</body></html>
